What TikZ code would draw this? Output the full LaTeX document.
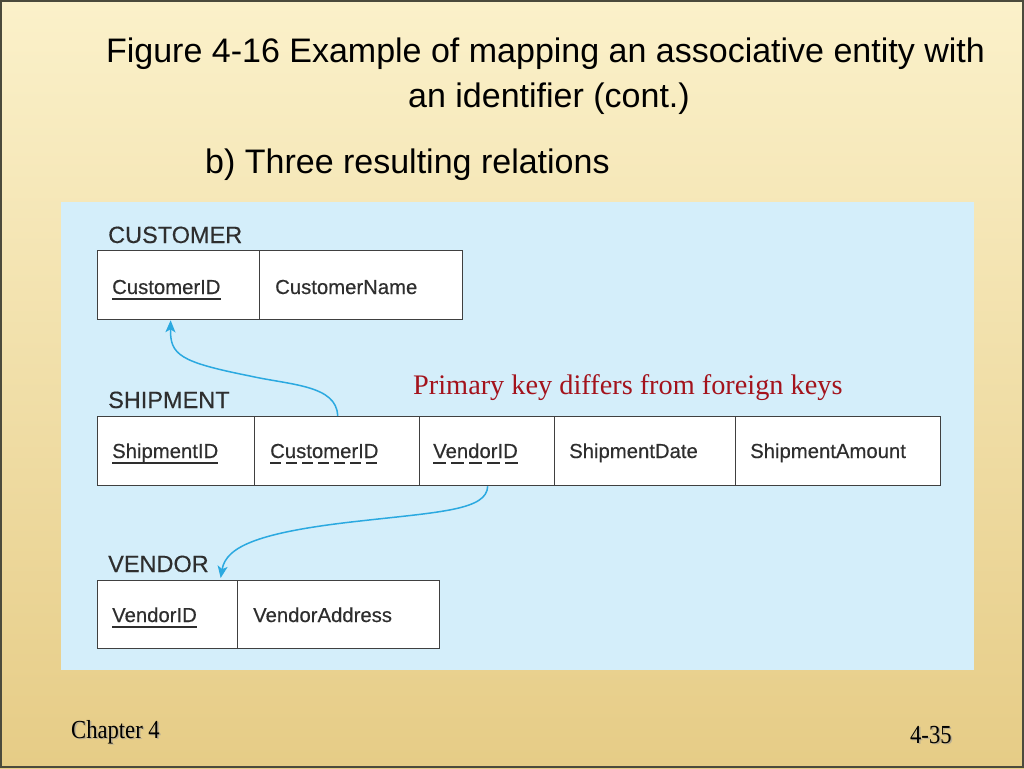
\documentclass[tikz,border=0pt]{standalone}
\usepackage{fontspec}
\setmainfont{Liberation Sans}
\newfontfamily\serifx{Liberation Serif}
\newfontfamily\heavy[FakeBold=0.35]{Liberation Sans}
\usetikzlibrary{arrows.meta}
\definecolor{tanlight}{HTML}{FBF1CA}
\definecolor{tandark}{HTML}{E6CC86}
\definecolor{framecol}{HTML}{4B4A3C}
\definecolor{panel}{HTML}{D4EEFA}
\definecolor{arrowblue}{HTML}{2BA9E0}
\definecolor{keyred}{HTML}{A3131C}
\definecolor{cellline}{HTML}{404040}
\definecolor{ink}{HTML}{2E2E2E}
\begin{document}
\begin{tikzpicture}[x=1pt,y=-1pt,
  cell/.style={draw=cellline, line width=1.3pt, fill=white, anchor=north west, inner sep=0pt, minimum height=69pt},
  field/.style={anchor=base west, inner sep=0pt, text=ink, font=\heavy\fontsize{20.3}{24}\selectfont},
  rel/.style={anchor=base west, inner sep=0pt, text=ink, font=\heavy\fontsize{23.5}{27}\selectfont},
  titletext/.style={anchor=base, inner sep=0pt, text=black, font=\fontsize{34}{40}\selectfont},
  foot/.style={anchor=base west, inner sep=0pt, xscale=0.87, font=\serifx\fontsize{26}{30}\selectfont},
  pk/.style={draw=ink, line width=1.4pt},
  fkc/.style={draw=ink, line width=1.4pt, dash pattern=on 11pt off 5pt},
  fkv/.style={draw=ink, line width=1.4pt, dash pattern=on 13pt off 5pt},
  link/.style={draw=arrowblue, line width=1.5pt, -{Stealth[length=12pt,width=10pt,inset=3pt]}}
]
\useasboundingbox (0,0) rectangle (1024,768);
% background
\shade[top color=tanlight, bottom color=tandark] (0,0) rectangle (1024,768);
\draw[framecol, line width=2.5pt] (1,1) rectangle (1023,767);

% titles
\node[titletext] (t1) at (545.5,63) {Figure 4-16 Example of mapping an associative entity with};
\node[titletext] (t2) at (549,107) {an identifier (cont.)};
\node[titletext, anchor=base west] (t3) at (205,173) {b) Three resulting relations};

% panel
\fill[panel] (61,202) rectangle (974,670);

% CUSTOMER
\node[rel] (lc) at (108,243) {CUSTOMER};
\node[cell, minimum width=162pt] (c1) at (97,250) {};
\node[cell, minimum width=203pt] (c2) at (259,250) {};
\node[field] (fc1) at (112,294) {CustomerID};
\node[field] (fc2) at (275,294) {CustomerName};
\draw[pk] ([yshift=-5pt]fc1.base west) -- ([yshift=-5pt]fc1.base east);

% SHIPMENT
\node[rel] (ls) at (108,408) {SHIPMENT};
\node[cell, minimum width=157pt] (s1) at (97,416) {};
\node[cell, minimum width=165pt] (s2) at (254,416) {};
\node[cell, minimum width=135pt] (s3) at (419,416) {};
\node[cell, minimum width=181pt] (s4) at (554,416) {};
\node[cell, minimum width=205pt] (s5) at (735,416) {};
\node[field] (fs1) at (112,458) {ShipmentID};
\node[field] (fs2) at (270,458) {CustomerID};
\node[field] (fs3) at (433,458) {VendorID};
\node[field] (fs4) at (569,458) {ShipmentDate};
\node[field] (fs5) at (750,458) {ShipmentAmount};
\draw[pk] ([yshift=-5pt]fs1.base west) -- ([yshift=-5pt]fs1.base east);
\draw[fkc] ([yshift=-5pt]fs2.base west) -- ([yshift=-5pt]fs2.base east);
\draw[fkv] ([yshift=-5pt]fs3.base west) -- ([yshift=-5pt]fs3.base east);

% VENDOR
\node[rel] (lv) at (108,572) {VENDOR};
\node[cell, minimum width=140pt, minimum height=68pt] (v1) at (97,580) {};
\node[cell, minimum width=202pt, minimum height=68pt] (v2) at (237,580) {};
\node[field] (fv1) at (112,622) {VendorID};
\node[field] (fv2) at (253,622) {VendorAddress};
\draw[pk] ([yshift=-5pt]fv1.base west) -- ([yshift=-5pt]fv1.base east);

% note
\node[anchor=base west, inner sep=0pt, text=keyred, font=\serifx\fontsize{28.3}{32}\selectfont] (note) at (413,394) {Primary key differs from foreign keys};

% connectors
\coordinate (a1s) at ([xshift=0.5pt]s2.north);
\coordinate (a1e) at ([xshift=-8pt]c1.south);
\draw[link] (a1s) .. controls (337,385) and (290,385) .. (250,376)
  .. controls (180,362) and (170,355) .. (a1e);
\coordinate (a2s) at ([xshift=0.5pt]s3.south);
\coordinate (a2e) at ([xshift=53pt,yshift=2pt]v1.north);
\draw[link] (a2s) .. controls (487,510) and (440,512) .. (360,521)
  .. controls (260,532) and (226,546) .. (a2e);

% footer
\node[foot, text=black!40, opacity=0.6] (f1s) at (72.5,739.5) {Chapter 4};
\node[foot] (f1) at (71,738) {Chapter 4};
\node[foot, text=black!40, opacity=0.6] (f2s) at (911.5,744.5) {4-35};
\node[foot] (f2) at (910,743) {4-35};
\end{tikzpicture}
\end{document}
